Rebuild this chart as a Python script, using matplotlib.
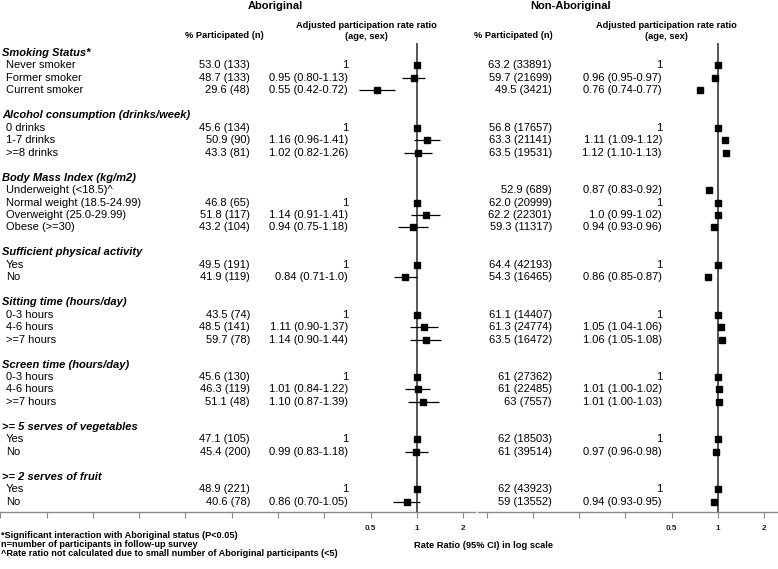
import numpy as np
import matplotlib
matplotlib.use("Agg")
import matplotlib.pyplot as plt
from matplotlib import transforms as mtrans

plt.rcParams['font.family'] = ['Liberation Sans', 'DejaVu Sans']

# ---------------- data ----------------
groups = ["Smoking Status*", "Alcohol consumption (drinks/week)", "Body Mass Index (kg/m2)",
          "Sufficient physical activity", "Sitting time (hours/day)", "Screen time (hours/day)",
          ">= 5 serves of vegetables", ">= 2 serves of fruit"]
group_items = [
    ["Never smoker", "Former smoker", "Current smoker"],
    ["0 drinks", "1-7 drinks", ">=8 drinks"],
    ["Underweight (<18.5)^", "Normal weight (18.5-24.99)", "Overweight (25.0-29.99)", "Obese (>=30)"],
    ["Yes", "No"],
    ["0-3 hours", "4-6 hours", ">=7 hours"],
    ["0-3 hours", "4-6 hours", ">=7 hours"],
    ["Yes", "No"],
    ["Yes", "No"],
]

abo_pct = ["53.0 (133)", "48.7 (133)", "29.6 (48)",
           "45.6 (134)", "50.9 (90)", "43.3 (81)",
           "", "46.8 (65)", "51.8 (117)", "43.2 (104)",
           "49.5 (191)", "41.9 (119)",
           "43.5 (74)", "48.5 (141)", "59.7 (78)",
           "45.6 (130)", "46.3 (119)", "51.1 (48)",
           "47.1 (105)", "45.4 (200)",
           "48.9 (221)", "40.6 (78)"]
abo_rr_text = ["1", "0.95 (0.80-1.13)", "0.55 (0.42-0.72)",
               "1", "1.16 (0.96-1.41)", "1.02 (0.82-1.26)",
               "", "1", "1.14 (0.91-1.41)", "0.94 (0.75-1.18)",
               "1", "0.84 (0.71-1.0)",
               "1", "1.11 (0.90-1.37)", "1.14 (0.90-1.44)",
               "1", "1.01 (0.84-1.22)", "1.10 (0.87-1.39)",
               "1", "0.99 (0.83-1.18)",
               "1", "0.86 (0.70-1.05)"]
abo_rr = [1, 0.95, 0.55, 1, 1.16, 1.02, np.nan, 1, 1.14, 0.94, 1, 0.84,
          1, 1.11, 1.14, 1, 1.01, 1.10, 1, 0.99, 1, 0.86]
abo_lo = [np.nan, 0.80, 0.42, np.nan, 0.96, 0.82, np.nan, np.nan, 0.91, 0.75, np.nan, 0.71,
          np.nan, 0.90, 0.90, np.nan, 0.84, 0.87, np.nan, 0.83, np.nan, 0.70]
abo_hi = [np.nan, 1.13, 0.72, np.nan, 1.41, 1.26, np.nan, np.nan, 1.41, 1.18, np.nan, 1.0,
          np.nan, 1.37, 1.44, np.nan, 1.22, 1.39, np.nan, 1.18, np.nan, 1.05]

non_pct = ["63.2 (33891)", "59.7 (21699)", "49.5 (3421)",
           "56.8 (17657)", "63.3 (21141)", "63.5 (19531)",
           "52.9 (689)", "62.0 (20999)", "62.2 (22301)", "59.3 (11317)",
           "64.4 (42193)", "54.3 (16465)",
           "61.1 (14407)", "61.3 (24774)", "63.5 (16472)",
           "61 (27362)", "61 (22485)", "63 (7557)",
           "62 (18503)", "61 (39514)",
           "62 (43923)", "59 (13552)"]
non_rr_text = ["1", "0.96 (0.95-0.97)", "0.76 (0.74-0.77)",
               "1", "1.11 (1.09-1.12)", "1.12 (1.10-1.13)",
               "0.87 (0.83-0.92)", "1", "1.0 (0.99-1.02)", "0.94 (0.93-0.96)",
               "1", "0.86 (0.85-0.87)",
               "1", "1.05 (1.04-1.06)", "1.06 (1.05-1.08)",
               "1", "1.01 (1.00-1.02)", "1.01 (1.00-1.03)",
               "1", "0.97 (0.96-0.98)",
               "1", "0.94 (0.93-0.95)"]
non_rr = [1, 0.96, 0.76, 1, 1.11, 1.12, 0.87, 1, 1.0, 0.94, 1, 0.86,
          1, 1.05, 1.06, 1, 1.01, 1.01, 1, 0.97, 1, 0.94]
non_lo = [np.nan, 0.95, 0.74, np.nan, 1.09, 1.10, 0.83, np.nan, 0.99, 0.93, np.nan, 0.85,
          np.nan, 1.04, 1.05, np.nan, 1.00, 1.00, np.nan, 0.96, np.nan, 0.93]
non_hi = [np.nan, 0.97, 0.77, np.nan, 1.12, 1.13, 0.92, np.nan, 1.02, 0.96, np.nan, 0.87,
          np.nan, 1.06, 1.08, np.nan, 1.02, 1.03, np.nan, 0.98, np.nan, 0.95]

tick_labels = {0.5: "0.5", 1: "1", 2: "2"}

footnotes = ["*Significant interaction with Aboriginal status (P<0.05)",
             "n=number of participants in follow-up survey",
             "^Rate ratio not calculated due to small number of Aboriginal participants (<5)"]

# ---------------- layout ----------------
W, H = 778, 569
fig = plt.figure(figsize=(W / 100, H / 100), dpi=100)

ROW0, ROWH, AXIS_Y = 53.0, 12.46, 512.0
PXPER = 46.3  # pixels per doubling

# row indices
header_rows, item_rows = [], []
r = 0
for g, items in zip(groups, group_items):
    header_rows.append(r)
    r += 1
    for _ in items:
        item_rows.append(r)
        r += 1
    r += 1
item_rows = np.array(item_rows)
all_items = [it for items in group_items for it in items]

ytop = -ROW0 / ROWH
ybot = (AXIS_Y - ROW0) / ROWH


def make_axes(x0, x1, one_px, kmin):
    ax = fig.add_axes([x0 / W, (H - AXIS_Y) / H, (x1 - x0) / W, AXIS_Y / H])
    ax.set_xscale('log', base=2)
    ax.set_xlim(2 ** ((x0 - one_px) / PXPER), 2 ** ((x1 - one_px) / PXPER))
    ax.set_ylim(ybot, ytop)
    ax.patch.set_alpha(0)
    for s in ['top', 'left', 'right']:
        ax.spines[s].set_visible(False)
    ax.spines['bottom'].set_color('#8a8a8a')
    ax.spines['bottom'].set_linewidth(1.0)
    ticks = [2.0 ** k for k in range(kmin, 2)]
    ax.set_xticks(ticks)
    ax.set_xticklabels([tick_labels.get(t, "") for t in ticks], fontsize=5.9, fontweight='bold')
    ax.minorticks_off()
    ax.tick_params(axis='x', colors='#8a8a8a', length=4, width=0.8, pad=5, labelcolor='#222222')
    ax.set_yticks([])
    ax.vlines(1, (43 - ROW0) / ROWH, ybot, color='#555555', lw=1.4, zorder=2)
    return ax


ax1 = make_axes(0, 475, 417, -9)
ax2 = make_axes(478, 778, 718, -5)


def draw_forest(ax, rr, lo, hi):
    rr = np.array(rr, float)
    lo = np.array(lo, float)
    hi = np.array(hi, float)
    m = ~np.isnan(lo)
    ax.hlines(item_rows[m], lo[m], hi[m], color='black', lw=0.9, zorder=3)
    k = ~np.isnan(rr)
    ax.plot(rr[k], item_rows[k], 's', color='black', ms=5.0, zorder=4, clip_on=False)


draw_forest(ax1, abo_rr, abo_lo, abo_hi)
draw_forest(ax2, non_rr, non_lo, non_hi)

tr = mtrans.blended_transform_factory(fig.transFigure, ax1.transData)
FS = 8

for g, hr in zip(groups, header_rows):
    fig.text(2 / W, hr, g, transform=tr, fontsize=FS, fontweight='bold', fontstyle='italic',
             va='center', ha='left')
for it, ir in zip(all_items, item_rows):
    fig.text(6 / W, ir, it, transform=tr, fontsize=FS, va='center', ha='left')

for col_px, texts in [(250, abo_pct), (348, abo_rr_text), (552, non_pct), (662, non_rr_text)]:
    for t, ir in zip(texts, item_rows):
        if t:
            fig.text(col_px / W, ir, t, transform=tr, fontsize=FS, va='center', ha='right')


def ftext(xpx, ypx, s, **kw):
    fig.text(xpx / W, 1 - ypx / H, s, **kw)


HF = 6.7
ftext(275, 6, "Aboriginal", fontsize=8, fontweight='bold', ha='center', va='center')
ftext(571, 6, "Non-Aboriginal", fontsize=8, fontweight='bold', ha='center', va='center')
for cx_pct, cx_rr in [(224, 366), (513, 666)]:
    ftext(cx_pct, 35, "% Participated (n)", fontsize=HF, fontweight='bold', ha='center', va='center')
    ftext(cx_rr, 25, "Adjusted participation rate ratio", fontsize=HF, fontweight='bold',
          ha='center', va='center')
    ftext(cx_rr, 36.5, "(age, sex)", fontsize=HF, fontweight='bold', ha='center', va='center')

ftext(483, 546, "Rate Ratio (95% CI) in log scale", fontsize=6.7, fontweight='bold',
      ha='center', va='center')
for i, fn in enumerate(footnotes):
    ftext(1, 535.5 + 9 * i, fn, fontsize=6.6, fontweight='bold', ha='left', va='center')

fig.savefig("out.png", dpi=100, facecolor='white')
